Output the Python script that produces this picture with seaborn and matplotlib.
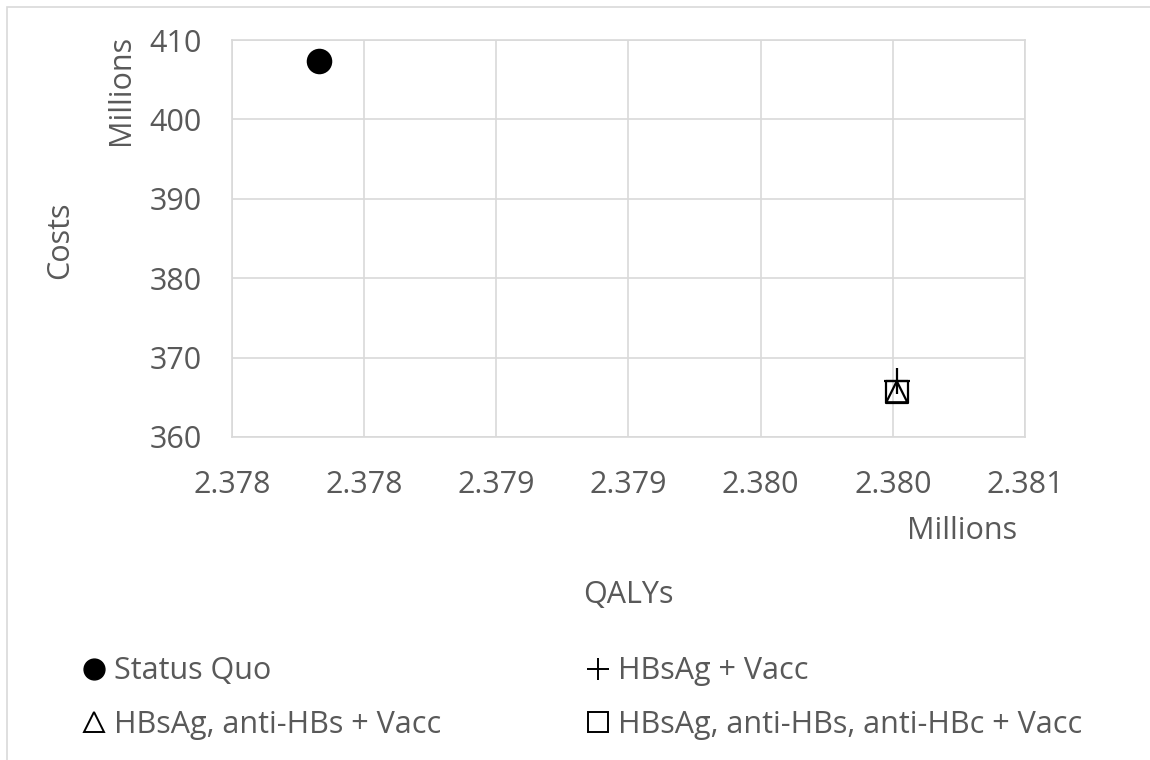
import matplotlib
matplotlib.use("Agg")
import matplotlib.pyplot as plt
from matplotlib.patches import Rectangle
from matplotlib.lines import Line2D
import seaborn as sns
import pandas as pd

# -------------------------
# data (QALYs and costs, in millions)
# -------------------------
strategies = ["Status Quo", "HBsAg + Vacc", "HBsAg, anti-HBs + Vacc",
              "HBsAg, anti-HBs, anti-HBc + Vacc"]
qalys = [2.37783, 2.380015, 2.380015, 2.380015]
costs = [407.3, 367.0, 365.7, 365.7]
x_ticks = [2.3775, 2.3780, 2.3785, 2.3790, 2.3795, 2.3800, 2.3805]
y_ticks = [360, 370, 380, 390, 400, 410]

df = pd.DataFrame({"Strategy": strategies, "QALYs": qalys, "Costs": costs})

# -------------------------
# style
# -------------------------
sns.set_theme(style="white")
plt.rcParams["font.family"] = ["Open Sans", "DejaVu Sans"]
GREY = "#595959"
GRID = "#d9d9d9"
FS = 22

fig = plt.figure(figsize=(11.5, 7.6), dpi=100)
ax = fig.add_axes([232 / 1150, 1 - 437 / 760, (1025 - 232) / 1150, (437 - 40) / 760])

marker_opts = {
    "Status Quo": dict(marker="o", s=290, color="black", edgecolor="black"),
    "HBsAg + Vacc": dict(marker="+", s=330, color="black", linewidth=1.6),
    "HBsAg, anti-HBs + Vacc": dict(marker="^", s=230, facecolor="none",
                                   edgecolor="black", linewidth=1.6),
    "HBsAg, anti-HBs, anti-HBc + Vacc": dict(marker="s", s=260, facecolor="none",
                                             edgecolor="black", linewidth=1.6),
}

for name in strategies:
    sub = df[df["Strategy"] == name]
    sns.scatterplot(data=sub, x="QALYs", y="Costs", ax=ax, legend=False,
                    zorder=3, **marker_opts[name])

ax.set_xlim(x_ticks[0], x_ticks[-1])
ax.set_ylim(y_ticks[0], y_ticks[-1])
ax.set_xticks(x_ticks)
ax.set_yticks(y_ticks)
# Excel-style rounding to three decimals (half up)
ax.set_xticklabels([f"{round(v + 1e-9, 3):.3f}" for v in x_ticks])
ax.set_yticklabels([str(v) for v in y_ticks])
ax.tick_params(axis="both", length=0, labelsize=FS, colors=GREY)
ax.tick_params(axis="x", pad=24)
ax.tick_params(axis="y", pad=22)
ax.grid(True, color=GRID, linewidth=1.2)
for sp in ax.spines.values():
    sp.set_color(GRID)
    sp.set_linewidth(1.2)
ax.set_xlabel("")
ax.set_ylabel("")

# axis titles and display-unit labels
fig.text(60 / 1150, 1 - 240 / 760, "Costs", rotation=90, ha="center", va="center",
         fontsize=FS, color=GREY)
fig.text(121 / 1150, 1 - 90 / 760, "Millions", rotation=90, ha="center", va="center",
         fontsize=FS, color=GREY)
fig.text(628 / 1150, 1 - 595 / 760, "QALYs", ha="center", va="center",
         fontsize=FS, color=GREY)
fig.text(962 / 1150, 1 - 531 / 760, "Millions", ha="center", va="center",
         fontsize=FS, color=GREY)

# legend (row-major order: matplotlib fills columns first)
h_sq = Line2D([], [], linestyle="none", marker="o", markersize=15, color="black")
h_plus = Line2D([], [], linestyle="none", marker="+", markersize=16, color="black",
                markeredgewidth=1.4)
h_tri = Line2D([], [], linestyle="none", marker="^", markersize=14,
               markerfacecolor="none", markeredgecolor="black", markeredgewidth=1.4)
h_box = Line2D([], [], linestyle="none", marker="s", markersize=14,
               markerfacecolor="none", markeredgecolor="black", markeredgewidth=1.4)
handles = [h_sq, h_tri, h_plus, h_box]
labels = [strategies[0], strategies[2], strategies[1], strategies[3]]
fig.legend(handles, labels, ncol=2, frameon=False, loc="upper left",
           bbox_to_anchor=(54 / 1150, 1 - 629 / 760), fontsize=FS,
           labelcolor=GREY, handlelength=0.8, handletextpad=0.25,
           columnspacing=4.75, labelspacing=0.76)

# outer chart border
fig.patches.append(Rectangle((7 / 1150, -0.01), 1.02, 1 - 7 / 760 + 0.01,
                             transform=fig.transFigure, fill=False,
                             edgecolor=GRID, linewidth=1.2))

fig.savefig("out.png", dpi=100)
